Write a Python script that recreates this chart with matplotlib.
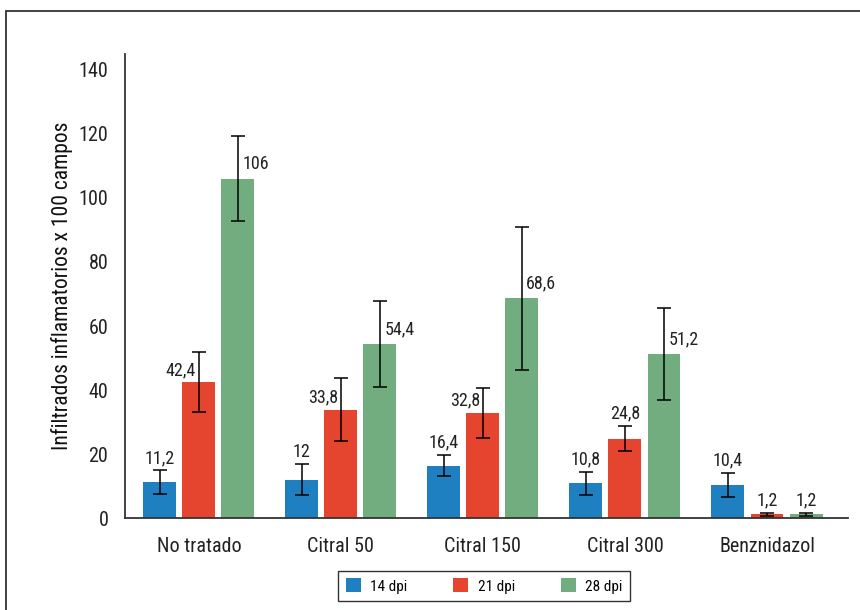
import numpy as np
import matplotlib.pyplot as plt
from matplotlib.patches import Rectangle

categorias = ['No tratado', 'Citral 50', 'Citral 150', 'Citral 300', 'Benznidazol']
series = ['14 dpi', '21 dpi', '28 dpi']
dpi14 = [11.2, 12, 16.4, 10.8, 10.4]
dpi21 = [42.4, 33.8, 32.8, 24.8, 1.2]
dpi28 = [106, 54.4, 68.6, 51.2, 1.2]
err14 = [3.7, 4.8, 3.4, 3.7, 3.7]
err21 = [9.4, 9.8, 7.7, 4.0, 0.5]
err28 = [13.3, 13.5, 22.3, 14.3, 0.5]
# where each value label goes: 'c' above the error cap, 'l'/'r' beside the bar
pos_etiqueta = [['c', 'c', 'c', 'c', 'c'],
                ['l', 'l', 'l', 'c', 'c'],
                ['r', 'r', 'r', 'r', 'c']]
colores = ['#1F80C1', '#E5452F', '#71AD7E']

plt.rcParams['font.family'] = ['Roboto Condensed', 'DejaVu Sans']


def fmt(v):
    s = ('%g' % v)
    return s.replace('.', ',')


def main():
    fig = plt.figure(figsize=(8.6, 6.1), dpi=100)
    ax = fig.add_axes([0.1453, 0.1508, 0.8407, 0.7607])

    # marco exterior
    fig.patches.append(Rectangle((6 / 860, -0.05), 1.1, (610 - 11) / 610 + 0.05,
                                 transform=fig.transFigure, fill=False,
                                 edgecolor='#333333', linewidth=1.3))

    x = np.arange(len(categorias))
    ancho = 0.232
    paso = 0.275
    datos = [dpi14, dpi21, dpi28]
    errores = [err14, err21, err28]
    for i in range(3):
        xs = x + (i - 1) * paso
        ax.bar(xs, datos[i], ancho, color=colores[i], label=series[i], zorder=2)
        ax.errorbar(xs, datos[i], yerr=errores[i], fmt='none', ecolor='black',
                    elinewidth=1.1, capsize=5, capthick=1.1, zorder=3)
        for j in range(len(categorias)):
            v = datos[i][j]
            p = pos_etiqueta[i][j]
            if p == 'c':
                ax.text(xs[j], v + errores[i][j] + 1.0, fmt(v), ha='center',
                        va='bottom', fontsize=13, color='#222222')
            elif p == 'l':
                ax.text(xs[j] - 0.02, v + 1.0, fmt(v), ha='right',
                        va='bottom', fontsize=13, color='#222222')
            else:
                ax.text(xs[j] + 0.03, v + 1.8, fmt(v), ha='left',
                        va='bottom', fontsize=13, color='#222222')

    ax.set_xlim(-0.52, 4.57)
    ax.set_ylim(0, 145)
    ax.set_yticks(np.arange(0, 141, 20))
    ax.set_xticks(x)
    ax.set_xticklabels(categorias)
    ax.tick_params(axis='both', length=0, labelsize=14.5, colors='#222222')
    ax.tick_params(axis='x', pad=14)
    ax.tick_params(axis='y', pad=12)
    for s in ['top', 'right']:
        ax.spines[s].set_visible(False)
    for s in ['left', 'bottom']:
        ax.spines[s].set_color('#333333')
        ax.spines[s].set_linewidth(1.3)
    ax.set_ylabel('Infiltrados inflamatorios x 100 campos', fontsize=15.5,
                  color='#111111')
    ax.yaxis.set_label_coords(-0.072, 0.5)

    leg = ax.legend(loc='center', bbox_to_anchor=(484 / 860, (610 - 586) / 610),
                    bbox_transform=fig.transFigure, ncol=3, frameon=True,
                    fancybox=False, edgecolor='black', fontsize=11,
                    handlelength=1.0, handleheight=1.0, columnspacing=3.0,
                    handletextpad=0.6, borderpad=0.5)
    leg.get_frame().set_linewidth(1.0)

    fig.savefig('out.png', dpi=100)


if __name__ == "__main__":
    main()
